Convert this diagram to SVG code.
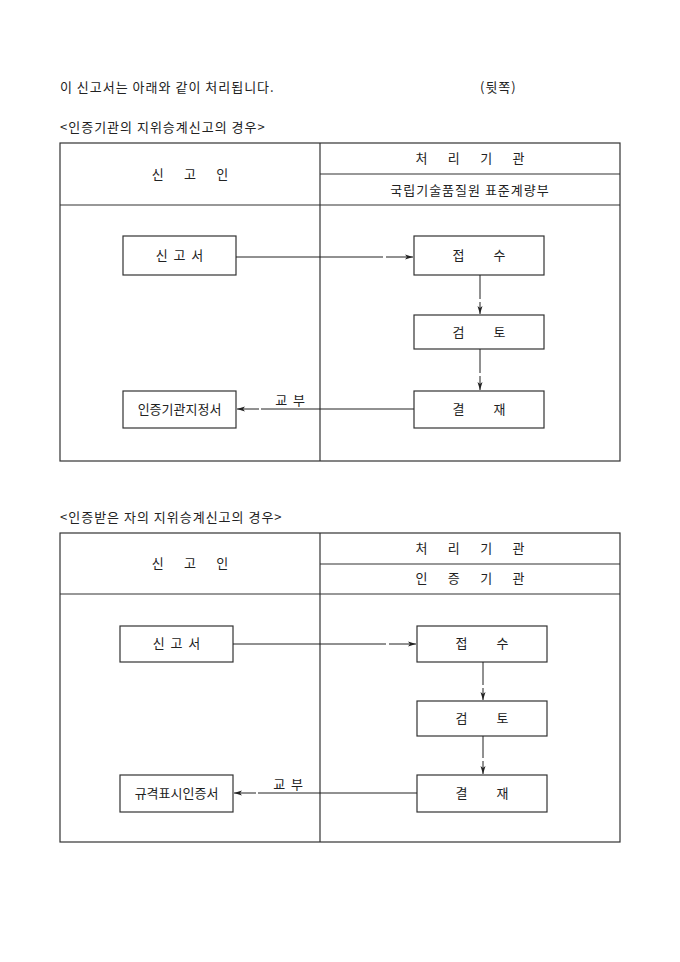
<svg xmlns="http://www.w3.org/2000/svg" width="680" height="962" viewBox="0 0 680 962">
<defs>
<style>
text{font-family:"Noto Sans CJK KR","Noto Sans CJK SC",sans-serif;font-size:13px;fill:#222;}
.c{text-anchor:middle;}
.sp{letter-spacing:1px;}
.frame{fill:none;stroke:#333;stroke-width:1.2;}
.box{fill:#fff;stroke:#333;stroke-width:1.2;}
.ln{fill:none;stroke:#222;stroke-width:1;}
</style>
<marker id="ah" viewBox="0 0 8 6" refX="8" refY="3" markerWidth="8" markerHeight="6" orient="auto" markerUnits="userSpaceOnUse">
<path d="M0,0.5 L8,3 L0,5.5 L2,3 Z" fill="#222"/>
</marker>
</defs>
<rect width="680" height="962" fill="#fff"/>
<text class="sp" x="60" y="92">이 신고서는 아래와 같이 처리됩니다.</text>
<text class="sp" x="480" y="92">(뒷쪽)</text>
<text class="sp" x="60" y="132">&lt;인증기관의 지위승계신고의 경우&gt;</text>

<g id="table1">
<rect class="frame" x="60" y="143" width="560" height="318"/>
<line class="frame" x1="320" y1="143" x2="320" y2="461"/>
<line class="frame" x1="320" y1="174" x2="620" y2="174"/>
<line class="frame" x1="60" y1="205" x2="620" y2="205"/>
<text class="c" x="190" y="179" xml:space="preserve">신       고       인</text>
<text class="c" x="470" y="163" xml:space="preserve">처       리       기       관</text>
<text class="c sp" x="470" y="195">국립기술품질원 표준계량부</text>
</g>
<g id="t1-sin"><rect class="box" x="123" y="236" width="113" height="39"/><text class="c" x="179.5" y="260" xml:space="preserve">신  고  서</text></g>
<g id="t1-jeop"><rect class="box" x="414" y="236" width="130" height="39"/><text class="c" x="479" y="260" xml:space="preserve">접          수</text></g>
<g id="t1-geom"><rect class="box" x="414" y="315" width="130" height="34"/><text class="c" x="479" y="337" xml:space="preserve">검          토</text></g>
<g id="t1-gyeol"><rect class="box" x="414" y="391" width="130" height="37"/><text class="c" x="479" y="414" xml:space="preserve">결          재</text></g>
<g id="t1-cert"><rect class="box" x="123" y="391" width="113" height="37"/><text class="c" x="179.5" y="414">인증기관지정서</text></g>
<g id="t1-connectors">
<line class="ln" x1="236" y1="257" x2="383" y2="257"/>
<line class="ln" x1="386" y1="257" x2="413" y2="257" marker-end="url(#ah)"/>
<line class="ln" x1="480" y1="275" x2="480" y2="299"/>
<line class="ln" x1="480" y1="302" x2="480" y2="314" marker-end="url(#ah)"/>
<line class="ln" x1="480" y1="349" x2="480" y2="373"/>
<line class="ln" x1="480" y1="376" x2="480" y2="390" marker-end="url(#ah)"/>
<line class="ln" x1="414" y1="409" x2="261" y2="409"/>
<line class="ln" x1="259" y1="409" x2="237" y2="409" marker-end="url(#ah)"/>
<text class="c" x="290" y="405" xml:space="preserve">교  부</text>
</g>

<text class="sp" x="60" y="522">&lt;인증받은 자의 지위승계신고의 경우&gt;</text>
<g id="table2">
<rect class="frame" x="60" y="533" width="560" height="309"/>
<line class="frame" x1="320" y1="533" x2="320" y2="842"/>
<line class="frame" x1="320" y1="564" x2="620" y2="564"/>
<line class="frame" x1="60" y1="594" x2="620" y2="594"/>
<text class="c" x="190" y="568" xml:space="preserve">신       고       인</text>
<text class="c" x="470" y="553" xml:space="preserve">처       리       기       관</text>
<text class="c" x="470" y="583" xml:space="preserve">인       증       기       관</text>
</g>
<g id="t2-sin"><rect class="box" x="120" y="626" width="113" height="36"/><text class="c" x="176.5" y="648" xml:space="preserve">신  고  서</text></g>
<g id="t2-jeop"><rect class="box" x="417" y="626" width="130" height="36"/><text class="c" x="482" y="648" xml:space="preserve">접          수</text></g>
<g id="t2-geom"><rect class="box" x="417" y="701" width="130" height="35"/><text class="c" x="482" y="723" xml:space="preserve">검          토</text></g>
<g id="t2-gyeol"><rect class="box" x="417" y="775" width="130" height="37"/><text class="c" x="482" y="798" xml:space="preserve">결          재</text></g>
<g id="t2-cert"><rect class="box" x="120" y="775" width="113" height="37"/><text class="c" x="176.5" y="798">규격표시인증서</text></g>
<g id="t2-connectors">
<line class="ln" x1="233" y1="644" x2="386" y2="644"/>
<line class="ln" x1="389" y1="644" x2="416" y2="644" marker-end="url(#ah)"/>
<line class="ln" x1="483" y1="662" x2="483" y2="685"/>
<line class="ln" x1="483" y1="688" x2="483" y2="700" marker-end="url(#ah)"/>
<line class="ln" x1="483" y1="736" x2="483" y2="758"/>
<line class="ln" x1="483" y1="761" x2="483" y2="774" marker-end="url(#ah)"/>
<line class="ln" x1="417" y1="793" x2="258" y2="793"/>
<line class="ln" x1="256" y1="793" x2="234" y2="793" marker-end="url(#ah)"/>
<text class="c" x="288" y="789" xml:space="preserve">교  부</text>
</g>
</svg>
